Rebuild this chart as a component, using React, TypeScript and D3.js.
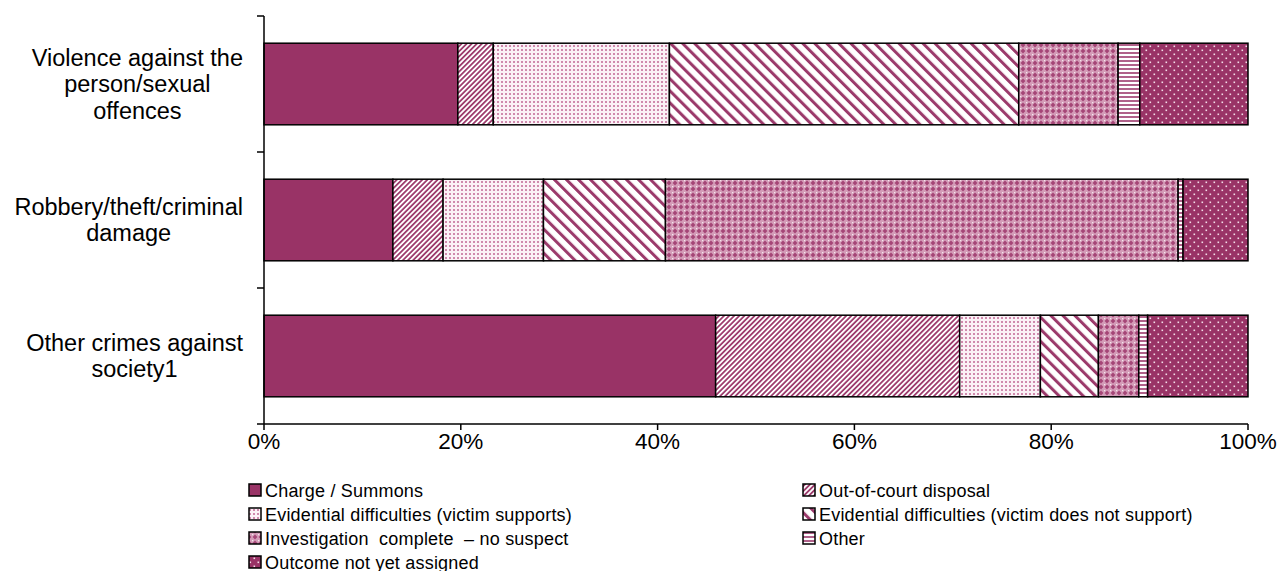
import React, { useEffect, useRef } from "react";
import * as d3 from "d3";

const categories = [
  "Violence against the person/sexual offences",
  "Robbery/theft/criminal damage",
  "Other crimes against society1",
];
const categoryLines = [
  ["Violence against the", "person/sexual", "offences"],
  ["Robbery/theft/criminal", "damage"],
  ["Other crimes against", "society1"],
];
const seriesNames = [
  "Charge / Summons",
  "Out-of-court disposal",
  "Evidential difficulties (victim supports)",
  "Evidential difficulties (victim does not support)",
  "Investigation  complete  \u2013 no suspect",
  "Other",
  "Outcome not yet assigned",
];
const charge = [19.7, 13.1, 45.9];
const outOfCourt = [3.6, 5.1, 24.8];
const evSupports = [17.9, 10.2, 8.2];
const evNotSupport = [35.5, 12.4, 5.9];
const investigation = [10.1, 52.1, 4.1];
const other = [2.2, 0.5, 0.9];
const outcome = [11.0, 6.6, 10.2];
const xTicks = [0, 20, 40, 60, 80, 100];

const MAIN = "#993366";
const FONT = "'Liberation Sans', Arial, sans-serif";

export default function App() {
  const ref = useRef<SVGSVGElement>(null);

  useEffect(() => {
    const svg = d3.select(ref.current);
    svg.selectAll("*").remove();

    const defs = svg.append("defs");
    const p1 = defs.append("pattern").attr("id", "p1").attr("patternUnits", "userSpaceOnUse")
      .attr("width", 3.6).attr("height", 3.6).attr("patternTransform", "rotate(45)");
    p1.append("rect").attr("width", 3.6).attr("height", 3.6).attr("fill", "#fff");
    p1.append("rect").attr("width", 1.8).attr("height", 3.6).attr("fill", "#9e3d6e");
    const p2 = defs.append("pattern").attr("id", "p2").attr("patternUnits", "userSpaceOnUse")
      .attr("width", 4).attr("height", 4);
    p2.append("rect").attr("width", 4).attr("height", 4).attr("fill", "#fbf1f6");
    p2.append("rect").attr("x", 1).attr("y", 1).attr("width", 2).attr("height", 2).attr("fill", "#cf8aad");
    const p3 = defs.append("pattern").attr("id", "p3").attr("patternUnits", "userSpaceOnUse")
      .attr("width", 8.5).attr("height", 8.5).attr("patternTransform", "rotate(-45)");
    p3.append("rect").attr("width", 8.5).attr("height", 8.5).attr("fill", "#fff");
    p3.append("rect").attr("width", 3).attr("height", 8.5).attr("fill", "#9b3a6b");
    const p4 = defs.append("pattern").attr("id", "p4").attr("patternUnits", "userSpaceOnUse")
      .attr("width", 6).attr("height", 6);
    p4.append("rect").attr("width", 6).attr("height", 6).attr("fill", "#d49cb8");
    p4.append("path").attr("d", "M3,0.6 L5.4,3 L3,5.4 L0.6,3 Z").attr("fill", "#a54677");
    p4.append("rect").attr("x", 0).attr("y", 0).attr("width", 1.3).attr("height", 1.3).attr("fill", "#f6e6ee");
    const p5 = defs.append("pattern").attr("id", "p5").attr("patternUnits", "userSpaceOnUse")
      .attr("width", 4).attr("height", 4);
    p5.append("rect").attr("width", 4).attr("height", 4).attr("fill", "#fff");
    p5.append("rect").attr("width", 4).attr("height", 2).attr("fill", "#b0618a");
    const p6 = defs.append("pattern").attr("id", "p6").attr("patternUnits", "userSpaceOnUse")
      .attr("width", 8).attr("height", 8);
    p6.append("rect").attr("width", 8).attr("height", 8).attr("fill", MAIN);
    p6.append("rect").attr("x", 1.5).attr("y", 1.5).attr("width", 1.6).attr("height", 1.6).attr("fill", "#f3dce8");
    p6.append("rect").attr("x", 5.5).attr("y", 5.5).attr("width", 1.6).attr("height", 1.6).attr("fill", "#f3dce8");

    const fills = [MAIN, "url(#p1)", "url(#p2)", "url(#p3)", "url(#p4)", "url(#p5)", "url(#p6)"];

    const seriesValues = [charge, outOfCourt, evSupports, evNotSupport, investigation, other, outcome];
    const table = categories.map((c, i) => {
      const row: any = { category: c };
      seriesNames.forEach((s, j) => (row[s] = seriesValues[j][i]));
      return row;
    });
    const stacked = d3.stack().keys(seriesNames)(table);

    const x = d3.scaleLinear().domain([0, 100]).range([264, 1248]);
    const y = d3.scaleBand().domain(categories).range([16, 424]).paddingInner(0.4).paddingOuter(0.2);

    stacked.forEach((s, si) => {
      svg.append("g").selectAll("rect").data(s).join("rect")
        .attr("x", (d) => x(d[0]))
        .attr("y", (d: any) => y(d.data.category)!)
        .attr("width", (d) => x(d[1]) - x(d[0]))
        .attr("height", y.bandwidth())
        .attr("fill", fills[si])
        .attr("stroke", "#000")
        .attr("stroke-width", 1.5);
    });

    const axis = svg.append("g").attr("stroke", "#000").attr("stroke-width", 1.5);
    axis.append("line").attr("x1", 264).attr("x2", 264).attr("y1", 16).attr("y2", 424);
    axis.append("line").attr("x1", 264).attr("x2", 1248).attr("y1", 424).attr("y2", 424);
    const step = y.step();
    for (let i = 0; i <= categories.length; i++) {
      const ty = 16 + i * step;
      axis.append("line").attr("x1", 257).attr("x2", 264).attr("y1", ty).attr("y2", ty);
    }
    xTicks.forEach((t) => {
      axis.append("line").attr("x1", x(t)).attr("x2", x(t)).attr("y1", 424).attr("y2", 430);
    });

    svg.append("g").selectAll("text").data(xTicks).join("text")
      .attr("x", (d) => x(d)).attr("y", 449)
      .attr("text-anchor", "middle")
      .attr("font-family", FONT).attr("font-size", 22.5).attr("fill", "#000")
      .text((d) => `${d}%`);

    const lineH = 26.5;
    categories.forEach((c, i) => {
      const lines = categoryLines[i];
      const g = svg.append("g");
      const texts = lines.map((l) =>
        g.append("text").attr("font-family", FONT).attr("font-size", 23.5).attr("fill", "#000")
          .attr("text-anchor", "middle").text(l)
      );
      const maxW = Math.max(...texts.map((t) => (t.node() as SVGTextElement).getComputedTextLength()));
      const cx = 243 - maxW / 2;
      const cy = y(c)! + y.bandwidth() / 2;
      const top = cy - ((lines.length - 1) * lineH) / 2;
      texts.forEach((t, k) => t.attr("x", cx).attr("y", top + k * lineH + 8));
    });

    const legendPos = [
      [249, 490], [803, 490],
      [249, 514], [803, 514],
      [249, 538], [803, 538],
      [249, 562],
    ];
    seriesNames.forEach((s, i) => {
      const [lx, ly] = legendPos[i];
      svg.append("rect").attr("x", lx).attr("y", ly - 6).attr("width", 12).attr("height", 12)
        .attr("fill", fills[i]).attr("stroke", "#000").attr("stroke-width", 1.5);
      svg.append("text").attr("x", lx + 16).attr("y", ly + 6.5)
        .attr("font-family", FONT).attr("font-size", 18).attr("fill", "#000")
        .attr("letter-spacing", 0.2)
        .style("white-space", "pre")
        .text(s);
    });
  }, []);

  return (
    <div style={{ position: "absolute", left: 0, top: 0 }}>
      <svg ref={ref} width={1279} height={571} style={{ display: "block", background: "#fff" }} />
    </div>
  );
}
